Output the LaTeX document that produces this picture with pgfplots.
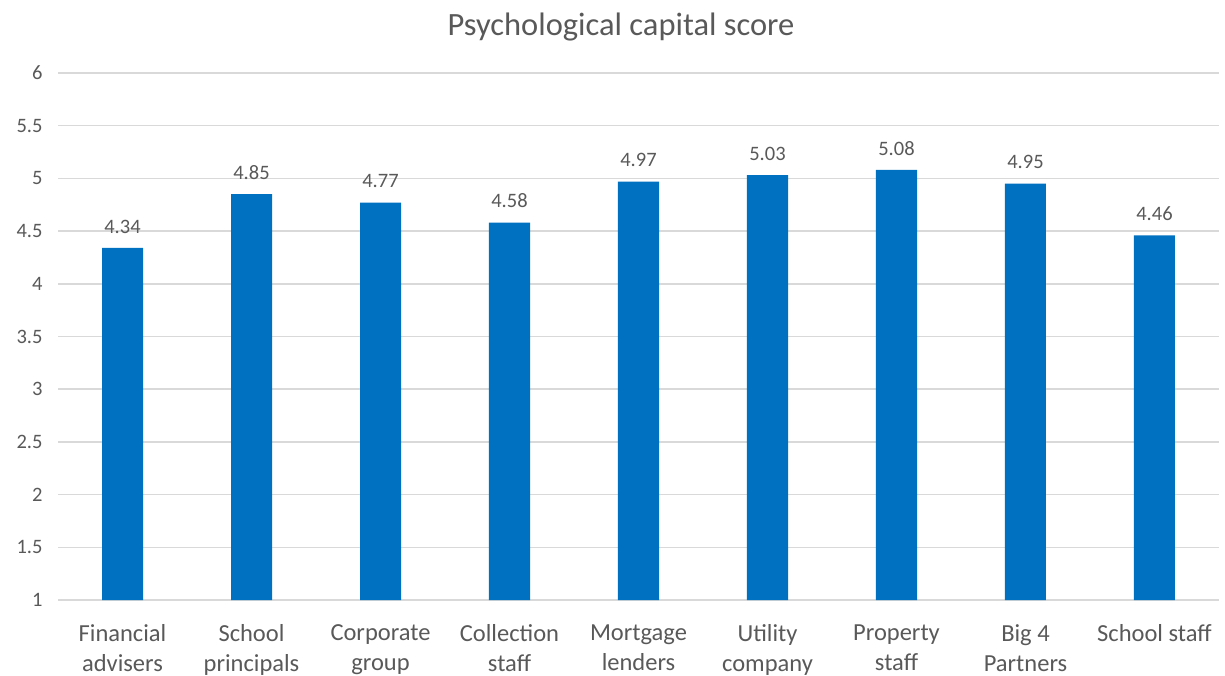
\documentclass[border=0pt]{standalone}
\usepackage{fontspec}
\setmainfont{Carlito}
\usepackage{pgfplots}
\pgfplotsset{compat=1.18}
\definecolor{barblue}{HTML}{0070C0}
\definecolor{txtgray}{HTML}{595959}
\definecolor{gridgray}{HTML}{D9D9D9}
\begin{document}
\begin{tikzpicture}[x=1pt,y=1pt]
\path[use as bounding box] (0,0) rectangle (1225,675);
\clip (0,0) rectangle (1225,675);
\node[font=\fontsize{32.5}{38}\selectfont, text=txtgray] at (621,648) {Psychological capital score};
\begin{axis}[
  at={(58pt,75pt)}, anchor=south west,
  scale only axis, width=1161pt, height=527pt,
  xmin=-0.5, xmax=8.5, ymin=1, ymax=6,
  ytick={1,1.5,...,6},
  yticklabels={1,1.5,2,2.5,3,3.5,4,4.5,5,5.5,6},
  xtick={0,...,8},
  xticklabels={Financial\\advisers, School\\principals, Corporate\\group, Collection\\staff, Mortgage\\lenders, Utility\\company, Property\\staff, Big 4\\Partners, School staff},
  xticklabel style={align=center, font=\fontsize{24.5}{30}\selectfont, text=txtgray, anchor=north, yshift=-21pt},
  yticklabel style={font=\fontsize{20.5}{24}\selectfont, text=txtgray, xshift=-12pt},
  /pgf/number format/assume math mode=true,
  major tick length=0pt,
  axis line style={draw=none},
  ymajorgrids, grid style={gridgray, line width=1.5pt},
  axis x line*=bottom,
  ybar, bar width=41pt, bar shift=0pt,
  nodes near coords,
  every node near coord/.append style={font=\fontsize{20.5}{24}\selectfont, text=txtgray, yshift=11pt},
  point meta=explicit symbolic,
]
\addplot[fill=barblue, draw=none] coordinates {
(0,4.34) [4.34]
(1,4.85) [4.85]
(2,4.77) [4.77]
(3,4.58) [4.58]
(4,4.97) [4.97]
(5,5.03) [5.03]
(6,5.08) [5.08]
(7,4.95) [4.95]
(8,4.46) [4.46]
};
\end{axis}
\end{tikzpicture}
\end{document}
